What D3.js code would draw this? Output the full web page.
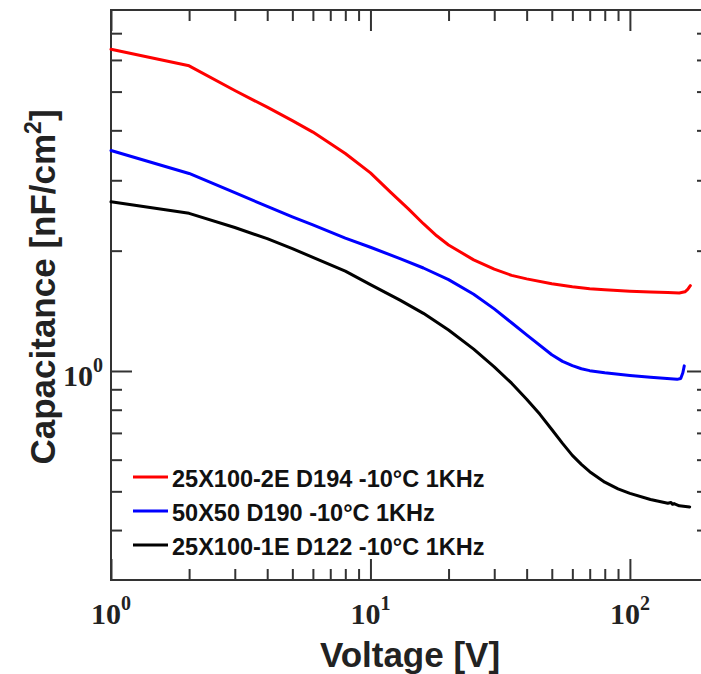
<!DOCTYPE html>
<html>
  <head>
    <style>
      body { margin: 0; background: #fff; }
    </style>
  </head>
  <body>
    <div id="my_dataviz"></div>
  </body>
</html>

<script src="https://d3js.org/d3.v7.min.js"></script>

<script>

    // data (voltage in V, capacitance in nF/cm2)
    var redV = [1, 2, 3, 4, 5, 6, 7, 8, 10, 12, 14, 16, 18, 20, 25, 30, 35, 40, 50, 60, 70, 80, 100, 120, 140, 155, 163, 167, 171];
    var redC = [6.38, 5.80, 5.03, 4.57, 4.23, 3.96, 3.71, 3.50, 3.13, 2.795, 2.544, 2.336, 2.179, 2.066, 1.897, 1.798, 1.735, 1.70, 1.652, 1.624, 1.606, 1.597, 1.584, 1.576, 1.572, 1.567, 1.578, 1.60, 1.635];

    var blueV = [1, 2, 3, 4, 5, 6, 8, 10, 13, 16, 20, 25, 30, 35, 40, 50, 55, 60, 65, 70, 80, 100, 120, 152, 157, 160, 162];
    var blueC = [3.56, 3.12, 2.795, 2.58, 2.43, 2.32, 2.15, 2.04, 1.91, 1.81, 1.693, 1.556, 1.43, 1.32, 1.231, 1.098, 1.057, 1.031, 1.013, 1.002, 0.99, 0.975, 0.964, 0.953, 0.958, 0.99, 1.03];

    var blackV = [1, 2, 3, 4, 5, 6, 8, 10, 13, 16, 20, 25, 30, 35, 40, 45, 50, 55, 60, 65, 70, 80, 90, 100, 120, 140, 144, 146, 148, 155, 170];
    var blackC = [2.65, 2.48, 2.285, 2.143, 2.024, 1.924, 1.777, 1.645, 1.504, 1.394, 1.266, 1.134, 1.024, 0.932, 0.850, 0.779, 0.714, 0.659, 0.615, 0.584, 0.560, 0.527, 0.507, 0.494, 0.477, 0.467, 0.469, 0.464, 0.466, 0.460, 0.457];

    var seriesNames = ["25X100-2E D194 -10\u00B0C 1KHz", "50X50 D190 -10\u00B0C 1KHz", "25X100-1E D122 -10\u00B0C 1KHz"];
    var seriesColors = ["#ff0000", "#0000ff", "#000000"];

    var xMinorTicks = [2, 3, 4, 5, 6, 7, 8, 9, 20, 30, 40, 50, 60, 70, 80, 90, 200];
    var xMajorTicks = [1, 10, 100];
    var xTickExp = ["0", "1", "2"];
    var yMinorTicks = [0.4, 0.5, 0.6, 0.7, 0.8, 0.9, 2, 3, 4, 5, 6, 7];
    var yMajorTicks = [1];
    var yTickExp = ["0"];

    // set the dimensions and margins of the graph
    var W = 701, H = 674;
    var margin = {top: 10, right: 708, bottom: 580, left: 111};

    var svg = d3.select("#my_dataviz")
      .append("svg")
        .attr("width", W)
        .attr("height", H);

    var x = d3.scaleLog()
      .domain([1, 200])
      .range([margin.left, margin.right]);

    var y = d3.scaleLog()
      .domain([0.3, 8])
      .range([margin.bottom, margin.top]);

    var axisColor = "#333";
    var serif = "'Liberation Serif', 'Times New Roman', serif";
    var sans = "'Liberation Sans', Arial, sans-serif";

    // ticks on all four sides, pointing in
    function drawTicks(g, axis, size) {
      g.call(axis.tickSize(-size).tickFormat(""));
      g.select(".domain").remove();
      g.selectAll("line").attr("stroke", axisColor).attr("stroke-width", 2);
    }

    var sides = [
      {t: "translate(0," + margin.bottom + ")", a: d3.axisBottom(x), minor: xMinorTicks, major: xMajorTicks},
      {t: "translate(0," + margin.top + ")", a: d3.axisTop(x), minor: xMinorTicks, major: xMajorTicks},
      {t: "translate(" + margin.left + ",0)", a: d3.axisLeft(y), minor: yMinorTicks, major: yMajorTicks},
      {t: "translate(" + margin.right + ",0)", a: d3.axisRight(y), minor: yMinorTicks, major: yMajorTicks}
    ];
    sides.forEach(function(sd) {
      drawTicks(svg.append("g").attr("transform", sd.t), sd.a.tickValues(sd.minor), 11);
      drawTicks(svg.append("g").attr("transform", sd.t), sd.a.tickValues(sd.major), 21);
    });

    // frame
    svg.append("rect")
      .attr("x", margin.left)
      .attr("y", margin.top)
      .attr("width", margin.right - margin.left)
      .attr("height", margin.bottom - margin.top)
      .attr("fill", "none")
      .attr("stroke", axisColor)
      .attr("stroke-width", 2);

    // tick labels 10^n
    xMajorTicks.forEach(function(v, i) {
      var t = svg.append("text")
        .attr("x", x(v))
        .attr("y", 624)
        .attr("text-anchor", "middle")
        .attr("font-family", serif)
        .attr("font-weight", "bold")
        .attr("font-size", 30)
        .attr("fill", "#222");
      t.append("tspan").text("10");
      t.append("tspan").attr("dy", -14).attr("font-size", 20).text(xTickExp[i]);
    });

    yMajorTicks.forEach(function(v, i) {
      var t = svg.append("text")
        .attr("x", 103)
        .attr("y", y(v) + 15)
        .attr("text-anchor", "end")
        .attr("font-family", serif)
        .attr("font-weight", "bold")
        .attr("font-size", 30)
        .attr("fill", "#222");
      t.append("tspan").text("10");
      t.append("tspan").attr("dy", -14).attr("font-size", 20).text(yTickExp[i]);
    });

    // axis titles
    svg.append("text")
      .attr("x", 410)
      .attr("y", 667)
      .attr("text-anchor", "middle")
      .attr("font-family", sans)
      .attr("font-weight", "bold")
      .attr("font-size", 35)
      .attr("fill", "#222")
      .text("Voltage [V]");

    var yt = svg.append("text")
      .attr("transform", "translate(55,287)rotate(-90)")
      .attr("text-anchor", "middle")
      .attr("font-family", sans)
      .attr("font-weight", "bold")
      .attr("font-size", 35)
      .attr("fill", "#222");
    yt.append("tspan").text("Capacitance [nF/cm");
    yt.append("tspan").attr("dy", -14).attr("font-size", 23).text("2");
    yt.append("tspan").attr("dy", 14).text("]");

    // curves
    var allV = [redV, blueV, blackV];
    var allC = [redC, blueC, blackC];

    var line = d3.line()
      .x(function(d) { return x(d[0]); })
      .y(function(d) { return y(d[1]); });

    for (var s = 0; s < 3; s++) {
      var pts = allV[s].map(function(v, i) { return [v, allC[s][i]]; });
      svg.append("path")
        .datum(pts)
        .attr("fill", "none")
        .attr("stroke", seriesColors[s])
        .attr("stroke-width", 3)
        .attr("stroke-linejoin", "round")
        .attr("stroke-linecap", "round")
        .attr("d", line);
    }

    // legend
    for (var k = 0; k < 3; k++) {
      var ly = 486.5 + k * 34;
      svg.append("line")
        .attr("x1", 133)
        .attr("x2", 168)
        .attr("y1", ly - 9.5)
        .attr("y2", ly - 9.5)
        .attr("stroke", seriesColors[k])
        .attr("stroke-width", 3);
      svg.append("text")
        .attr("x", 172)
        .attr("y", ly)
        .attr("font-family", sans)
        .attr("font-weight", "bold")
        .attr("font-size", 23.5)
        .attr("fill", "#111")
        .text(seriesNames[k]);
    }

</script>
